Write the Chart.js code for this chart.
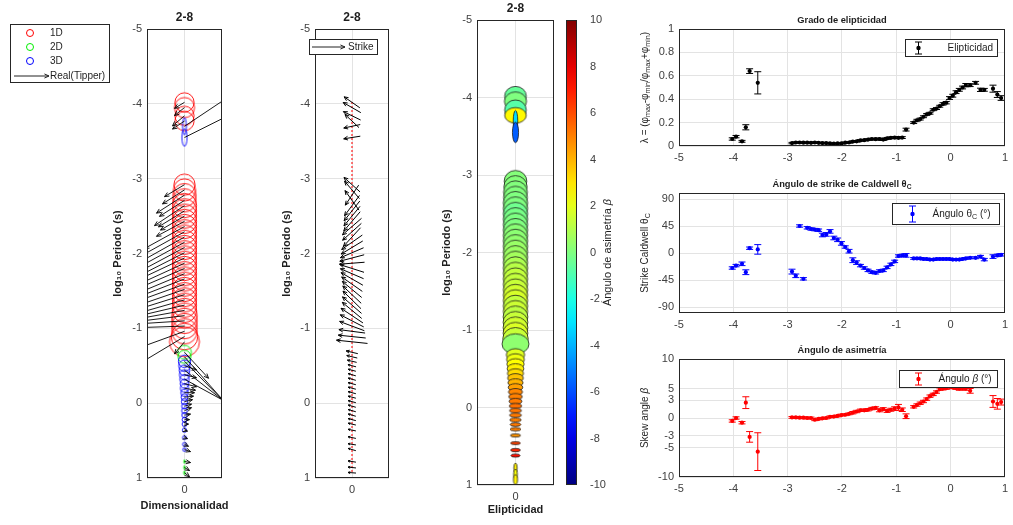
<!DOCTYPE html>
<html>
<head>
<meta charset="utf-8">
<title>2-8</title>
<script src="https://cdn.jsdelivr.net/npm/chart.js@4.4.1/dist/chart.umd.min.js"></script>
<style>
  html, body { margin: 0; padding: 0; background: #fff; overflow: hidden; }
  canvas { position: absolute; left: 0; top: 0; }
</style>
</head>
<body>
<canvas id="dim" width="1013" height="525"></canvas>
<canvas id="str" width="1013" height="525"></canvas>
<canvas id="ell" width="1013" height="525"></canvas>
<canvas id="cbar" width="1013" height="525"></canvas>
<canvas id="gEll" width="1013" height="525"></canvas>
<canvas id="gStr" width="1013" height="525"></canvas>
<canvas id="gSkew" width="1013" height="525"></canvas>
<script>
// ---- data (log10 period, one entry per frequency) ----
const periods = [
  -4.02, -3.95, -3.84, -3.77, -3.70, -3.55,
  -2.92, -2.85, -2.78, -2.71, -2.64, -2.57, -2.50, -2.43, -2.36, -2.29, -2.22, -2.15, -2.08, -2.01, -1.94, -1.87,
  -1.80, -1.73, -1.66, -1.59, -1.52, -1.45, -1.38, -1.31, -1.24, -1.17, -1.10, -1.03, -0.96, -0.89, -0.82,
  -0.68, -0.62, -0.56, -0.50, -0.44, -0.38, -0.32, -0.26, -0.20, -0.14, -0.08, -0.02, 0.04, 0.10, 0.16, 0.22,
  0.28, 0.36, 0.46, 0.55, 0.62, 0.78, 0.86, 0.93
];
// dimensionality: 1 = 1D, 2 = 2D, 3 = 3D
const dims = [
  1, 1, 1, 1, 3, 3,
  1, 1, 1, 1, 1, 1, 1, 1, 1, 1, 1, 1, 1, 1, 1, 1,
  1, 1, 1, 1, 1, 1, 1, 1, 1, 1, 1, 1, 1, 1, 1,
  2, 2, 3, 3, 3, 3, 3, 3, 3, 3, 3, 3, 3, 3, 3, 3,
  3, 3, 3, 3, 3, 2, 2, 2
];
const ellipticity = [
  0.06, 0.08, 0.04, 0.16, 0.64, 0.54,
  0.025, 0.03, 0.03, 0.028, 0.028, 0.027, 0.03, 0.027, 0.025, 0.025, 0.022, 0.02, 0.022, 0.022, 0.028, 0.03,
  0.038, 0.04, 0.048, 0.05, 0.055, 0.06, 0.058, 0.06, 0.055, 0.065, 0.07, 0.072, 0.07, 0.072, 0.14,
  0.20, 0.22, 0.23, 0.25, 0.27, 0.28, 0.31, 0.32, 0.34, 0.36, 0.37, 0.41, 0.43, 0.46, 0.48, 0.50,
  0.52, 0.52, 0.54, 0.48, 0.48, 0.49, 0.44, 0.41
];
const ellipticityErr = [
  0.010, 0.010, 0.008, 0.022, 0.020, 0.095,
  0.006, 0.006, 0.006, 0.006, 0.006, 0.006, 0.006, 0.006, 0.006, 0.006, 0.005, 0.005, 0.005, 0.005, 0.006, 0.006,
  0.007, 0.007, 0.007, 0.007, 0.007, 0.007, 0.007, 0.008, 0.008, 0.008, 0.008, 0.008, 0.008, 0.008, 0.012,
  0.008, 0.008, 0.008, 0.008, 0.008, 0.008, 0.008, 0.008, 0.008, 0.010, 0.010, 0.012, 0.012, 0.012, 0.012, 0.012,
  0.014, 0.012, 0.012, 0.014, 0.012, 0.030, 0.025, 0.020
];
const strike = [
  -25, -21, -18, -32, 8, 6,
  -31, -38, 45, -43, 42, 40, 39, 38, 30, 31, 36, 25, 22, 16, 10, 3,
  -12, -16, -21, -25, -29, -32, -33, -30, -29, -24, -19, -14, -5, -4, -4,
  -9, -9, -9, -10, -10, -11, -11, -10, -10, -10, -10, -10, -11, -11, -11, -10,
  -9, -8, -8, -6, -11, -6, -4, -3
];
const strikeErr = [
  2, 2, 3, 4, 2, 8,
  4, 3, 2, 2, 2, 2, 2, 2, 3, 3, 3, 3, 3, 3, 2, 3,
  4, 3, 2, 2, 2, 2, 2, 2, 2, 2, 2, 2, 2, 2, 3,
  1.5, 1.5, 1.5, 1.5, 1.5, 1.5, 1.5, 1.5, 1.5, 1.5, 1.5, 1.5, 1.5, 1.5, 1.5, 1.5,
  1.5, 1.5, 1.5, 2, 2, 3, 2, 2
];
const skew = [
  -0.5, 0.0, -0.8, 2.6, -3.2, -5.7,
  0.1, 0.1, 0.05, 0.05, 0.0, 0.0, -0.3, -0.15, -0.05, 0.0, 0.2, 0.25, 0.35, 0.5, 0.55, 0.7,
  0.9, 1.1, 1.3, 1.3, 1.4, 1.6, 1.7, 1.3, 1.5, 1.2, 1.4, 1.6, 1.8, 1.4, 0.3,
  1.9, 2.2, 2.5, 2.8, 3.2, 3.7, 4.0, 4.4, 4.9, 5.0, 5.1, 5.3, 5.2, 5.1, 5.0, 5.1,
  5.0, 4.6, 6.2, 6.8, 7.2, 2.8, 2.4, 2.7
];
const skewErr = [
  0.2, 0.2, 0.2, 1.0, 0.9, 3.2,
  0.15, 0.15, 0.15, 0.15, 0.15, 0.15, 0.15, 0.15, 0.15, 0.15, 0.15, 0.15, 0.15, 0.15, 0.15, 0.15,
  0.2, 0.2, 0.2, 0.2, 0.2, 0.2, 0.2, 0.25, 0.25, 0.25, 0.25, 0.3, 0.5, 0.3, 0.4,
  0.2, 0.2, 0.2, 0.2, 0.2, 0.2, 0.2, 0.2, 0.2, 0.25, 0.25, 0.25, 0.25, 0.25, 0.3, 0.3,
  0.3, 0.4, 0.4, 0.4, 0.4, 1.0, 0.9, 0.5
];
// phase tensor: phi_max (deg) and azimuth of the major axis (deg from horizontal)
const phiMax = [
  40, 41, 40, 40, 38, 38,
  42, 43, 44, 44, 45, 45, 45, 45, 45, 45, 45, 45, 45, 45, 45, 45,
  45, 45, 45, 45, 45, 45, 45, 45, 45, 46, 46, 46, 46, 47, 50,
  34, 33, 32, 31, 30, 29, 28, 27, 26, 25, 24, 23, 22, 22, 21, 20,
  20, 19, 18, 18, 17, 18, 18, 18
];
const ellAzimuth = [
  0, 0, 0, 0, 90, 90,
  0, 0, 0, 0, 0, 0, 0, 0, 0, 0, 0, 0, 0, 0, 0, 0,
  0, 0, 0, 0, 0, 0, 0, 0, 0, 0, 0, 0, 0, 0, 0,
  0, 0, 0, 0, 0, 0, 0, 0, 0, 0, 0, 0, 0, 0, 0, 0,
  0, 0, 0, 0, 0, 90, 90, 90
];
// real induction arrows (x to the right, y towards longer periods)
const tipperX = [
  -0.10, -0.10, -0.12, -0.12, 0.60, 0.60,
  -0.20, -0.22, -0.28, -0.25, -0.30, -0.26, -0.24, -0.28, -0.40, -0.45, -0.50, -0.55, -0.60, -0.65, -0.70, -0.70,
  -0.70, -0.72, -0.72, -0.72, -0.70, -0.70, -0.70, -0.68, -0.66, -0.64, -0.62, -0.60, -0.55, -0.50, -0.10,
  0.24, 0.55, 0.55, 0.12, 0.55, 0.12, 0.55, 0.12, 0.11, 0.10, 0.09, 0.08, 0.07, 0.07, 0.06, 0.05,
  0.04, 0.03, 0.03, 0.04, 0.06, 0.06, 0.05, 0.05
];
const tipperY = [
  0.06, 0.08, 0.10, 0.08, -0.40, -0.30,
  0.12, 0.14, 0.18, 0.16, 0.20, 0.16, 0.14, 0.15, 0.22, 0.25, 0.28, 0.30, 0.32, 0.33, 0.33, 0.32,
  0.30, 0.30, 0.28, 0.26, 0.24, 0.22, 0.20, 0.16, 0.12, 0.08, 0.04, 0.02, 0.20, 0.30, 0.12,
  0.26, 0.62, 0.56, 0.04, 0.43, 0.03, 0.30, 0.03, 0.02, 0.00, -0.01, -0.02, -0.02, -0.03, -0.01, 0.00,
  0.00, 0.01, 0.01, 0.02, 0.02, 0.01, 0.03, 0.04
];

const periodTicks = [-5, -4, -3, -2, -1, 0, 1];
const stripTicks = [0];
const ellipTicks = [0, 0.2, 0.4, 0.6, 0.8, 1];
const strikeTicks = [-90, -45, 0, 45, 90];
const skewTicks = [-10, -5, -3, 0, 3, 5, 10];
const cbarTicks = [-10, -8, -6, -4, -2, 0, 2, 4, 6, 8, 10];

// ---- look ----
const FONT = "'Liberation Sans', Arial, sans-serif";
Chart.defaults.font.family = FONT;
Chart.defaults.font.size = 11;
Chart.defaults.color = '#404040';
Chart.defaults.animation = false;
Chart.defaults.responsive = false;
Chart.defaults.events = [];
Chart.defaults.plugins.legend.display = false;
Chart.defaults.plugins.tooltip.enabled = false;

const W = 1013, H = 525;
const GRID = '#e3e3e3', AXIS = '#262626', TXT = '#1e1e1e';
const PT_PX = 0.27;   // px per degree of phi_max
const TIP_PX = 100;   // px per unit of induction arrow

function jet(v) {
  const t = Math.max(0, Math.min(1, (v + 10) / 20));
  const c = u => Math.round(255 * Math.max(0, Math.min(1, u)));
  return `rgb(${c(1.5 - Math.abs(4 * t - 3))},${c(1.5 - Math.abs(4 * t - 2))},${c(1.5 - Math.abs(4 * t - 1))})`;
}

function frame(l, t, r, b, yw, xh, right) {
  return { padding: { left: right ? l : l - yw, top: t, right: right ? W - r - yw : W - r, bottom: H - b - xh } };
}

function axisY(min, max, ticks, yw, extra) {
  return Object.assign({
    type: 'linear', min, max,
    afterBuildTicks: s => { s.ticks = ticks.map(v => ({ value: v })); },
    afterFit: s => { s.width = yw; },
    grid: { color: GRID, drawTicks: false },
    border: { display: false },
    ticks: { padding: 5, callback: v => String(v) }
  }, extra || {});
}
function axisX(min, max, ticks, xh, extra) {
  return Object.assign({
    type: 'linear', min, max,
    afterBuildTicks: s => { s.ticks = ticks.map(v => ({ value: v })); },
    afterFit: s => { s.height = xh; },
    grid: { color: GRID, drawTicks: false },
    border: { display: false },
    ticks: { padding: 5, maxRotation: 0, autoSkip: false, callback: v => String(v) }
  }, extra || {});
}
const boldTitle = text => ({ display: true, text, color: TXT, font: { size: 11, weight: 'bold' }, padding: { top: 4, bottom: 4 } });

// text made of segments: [text, subscript?, italic?]
function drawRich(ctx, segs, x, y, size, weight, rot, align) {
  ctx.save();
  ctx.translate(x, y);
  if (rot) ctx.rotate(rot);
  const parts = segs.map(s => {
    const sz = s[1] ? size * 0.72 : size;
    const f = `${s[2] ? 'italic ' : ''}${weight} ${sz}px ${FONT}`;
    ctx.font = f;
    return { t: s[0], f, w: ctx.measureText(s[0]).width, dy: s[1] ? size * 0.32 : 0 };
  });
  const total = parts.reduce((a, p) => a + p.w, 0);
  let cx = align === 'left' ? 0 : -total / 2;
  ctx.fillStyle = TXT;
  ctx.textBaseline = 'middle';
  ctx.textAlign = 'left';
  parts.forEach(p => { ctx.font = p.f; ctx.fillText(p.t, cx, p.dy); cx += p.w; });
  ctx.restore();
}

function arrow(ctx, x0, y0, x1, y1, head) {
  const a = Math.atan2(y1 - y0, x1 - x0);
  ctx.beginPath();
  ctx.moveTo(x0, y0);
  ctx.lineTo(x1, y1);
  ctx.moveTo(x1 - head * Math.cos(a - 0.42), y1 - head * Math.sin(a - 0.42));
  ctx.lineTo(x1, y1);
  ctx.lineTo(x1 - head * Math.cos(a + 0.42), y1 - head * Math.sin(a + 0.42));
  ctx.stroke();
}

function clipArea(ctx, a) {
  ctx.beginPath();
  ctx.rect(a.left, a.top, a.right - a.left, a.bottom - a.top);
  ctx.clip();
}

const boxPlugin = {
  id: 'box',
  afterDraw(chart) {
    const { ctx, chartArea: a } = chart;
    ctx.save();
    ctx.strokeStyle = AXIS;
    ctx.lineWidth = 1;
    ctx.strokeRect(Math.round(a.left) + 0.5, Math.round(a.top) + 0.5, Math.round(a.right - a.left) - 1, Math.round(a.bottom - a.top) - 1);
    ctx.restore();
  }
};

function titlePlugin(segs, size, gap) {
  return {
    id: 'ttl',
    afterDraw(chart) {
      const a = chart.chartArea;
      drawRich(chart.ctx, segs, (a.left + a.right) / 2, a.top - gap, size, 'bold');
    }
  };
}
function xLabelPlugin(text, gap) {
  return {
    id: 'xlab',
    afterDraw(chart) {
      const a = chart.chartArea;
      drawRich(chart.ctx, [[text]], (a.left + a.right) / 2, a.bottom + gap, 11, 'bold');
    }
  };
}
function yLabelPlugin(segs, size, dx) {
  return {
    id: 'ylab',
    afterDraw(chart) {
      const a = chart.chartArea;
      drawRich(chart.ctx, segs, a.left - dx, (a.top + a.bottom) / 2, size, 'normal', -Math.PI / 2);
    }
  };
}

// phase tensor ellipse glyphs
function ellipseImg(ra, rb, fill, stroke, lw) {
  const s = Math.ceil(2 * ra + 2 * lw + 2);
  const c = document.createElement('canvas');
  c.width = s; c.height = s;
  const g = c.getContext('2d');
  g.beginPath();
  g.ellipse(s / 2, s / 2, ra, Math.max(rb, 0.6), 0, 0, 2 * Math.PI);
  if (fill) { g.fillStyle = fill; g.fill(); }
  g.lineWidth = lw;
  g.strokeStyle = stroke;
  g.stroke();
  return c;
}
const dimColor = { 1: '#ff0000', 2: '#00ee00', 3: '#0000ff' };
const ratio = i => (1 - ellipticity[i]) / (1 + ellipticity[i]);
const dimImgs = periods.map((p, i) => {
  const ra = PT_PX * phiMax[i] * phiMax[i] / 45;
  const rb = ellAzimuth[i] === 90 ? ra * ratio(i) : ra;
  return ellipseImg(ra, rb, null, dimColor[dims[i]], 0.9);
});
const ellImgs = periods.map((p, i) => {
  const ra = PT_PX * phiMax[i];
  return ellipseImg(ra, ra * ratio(i), jet(skew[i]), '#1a1a1a', 0.8);
});

// ---- 1: dimensionality + induction arrows ----
const tipperPlugin = {
  id: 'tipper',
  afterDatasetsDraw(chart) {
    const { ctx, chartArea: a, scales: { x, y } } = chart;
    ctx.save();
    clipArea(ctx, a);
    ctx.strokeStyle = '#000';
    ctx.lineWidth = 0.9;
    periods.forEach((p, i) => {
      const x0 = x.getPixelForValue(0), y0 = y.getPixelForValue(p);
      arrow(ctx, x0, y0, x0 + tipperX[i] * TIP_PX, y0 + tipperY[i] * TIP_PX, 5);
    });
    ctx.restore();
  }
};
const dimLegend = {
  id: 'dimLegend',
  afterDraw(chart) {
    const ctx = chart.ctx;
    ctx.save();
    ctx.fillStyle = '#fff';
    ctx.strokeStyle = AXIS;
    ctx.lineWidth = 1;
    ctx.fillRect(10.5, 24.5, 99, 58);
    ctx.strokeRect(10.5, 24.5, 99, 58);
    [['1D', 1, 33], ['2D', 2, 47], ['3D', 3, 61]].forEach(([t, d, yy]) => {
      ctx.beginPath();
      ctx.arc(30, yy, 3.5, 0, 2 * Math.PI);
      ctx.strokeStyle = dimColor[d];
      ctx.stroke();
      drawRich(ctx, [[t]], 50, yy, 10, 'normal', 0, 'left');
    });
    ctx.strokeStyle = '#222';
    arrow(ctx, 14, 76, 49, 76, 5);
    drawRich(ctx, [['Real(Tipper)']], 50, 76, 10, 'normal', 0, 'left');
    ctx.restore();
  }
};
new Chart(document.getElementById('dim'), {
  type: 'scatter',
  data: { datasets: [{
    data: periods.map(p => ({ x: 0, y: p })),
    pointStyle: c => dimImgs[c.dataIndex],
    rotation: c => -ellAzimuth[c.dataIndex],
    pointRadius: 3
  }] },
  options: {
    layout: frame(147, 29, 222, 478, 40, 39),
    scales: {
      x: axisX(-1, 1, stripTicks, 39),
      y: axisY(-5, 1, periodTicks, 40, { reverse: true, title: boldTitle('log₁₀ Periodo (s)') })
    }
  },
  plugins: [tipperPlugin, boxPlugin, titlePlugin([['2-8']], 12, 11.5), xLabelPlugin('Dimensionalidad', 28), dimLegend]
});

// ---- 2: strike arrows ----
const strikePlugin = {
  id: 'strikeArrows',
  afterDatasetsDraw(chart) {
    const { ctx, chartArea: a, scales: { x, y } } = chart;
    ctx.save();
    clipArea(ctx, a);
    ctx.strokeStyle = '#000';
    ctx.lineWidth = 1;
    periods.forEach((p, i) => {
      const len = Math.max(8, (phiMax[i] - 24) * 1.2);
      const t = strike[i] * Math.PI / 180;
      // vector in data units: the period axis is stretched 1.5x against the strip width
      let ux = -Math.cos(t), uy = 1.5 * Math.sin(t);
      const n = Math.hypot(ux, uy);
      const dx = ux / n * len / 2, dy = uy / n * len / 2;
      const cx = x.getPixelForValue(0), cy = y.getPixelForValue(p);
      arrow(ctx, cx - dx, cy - dy, cx + dx, cy + dy, Math.min(4.5, len * 0.3));
    });
    ctx.restore();
  }
};
const strikeLegend = {
  id: 'strikeLegend',
  afterDraw(chart) {
    const ctx = chart.ctx;
    ctx.save();
    ctx.fillStyle = '#fff';
    ctx.strokeStyle = AXIS;
    ctx.lineWidth = 1;
    ctx.fillRect(309.5, 39.5, 68, 15);
    ctx.strokeRect(309.5, 39.5, 68, 15);
    ctx.strokeStyle = '#222';
    arrow(ctx, 312, 47, 345, 47, 5);
    drawRich(ctx, [['Strike']], 348, 47, 10, 'normal', 0, 'left');
    ctx.restore();
  }
};
new Chart(document.getElementById('str'), {
  type: 'scatter',
  data: { datasets: [{
    data: periods.map(p => ({ x: 0, y: p })),
    showLine: true,
    borderColor: '#ff2020',
    borderWidth: 1.6,
    borderDash: [1.5, 2.5],
    pointRadius: 0
  }] },
  options: {
    layout: frame(315, 29, 389, 478, 39, 39),
    scales: {
      x: axisX(-1, 1, stripTicks, 39),
      y: axisY(-5, 1, periodTicks, 39, { reverse: true, title: boldTitle('log₁₀ Periodo (s)') })
    }
  },
  plugins: [strikePlugin, boxPlugin, titlePlugin([['2-8']], 12, 11.5), strikeLegend]
});

// ---- 3: ellipticity ellipses coloured by skew ----
new Chart(document.getElementById('ell'), {
  type: 'scatter',
  data: { datasets: [{
    data: periods.map(p => ({ x: 0, y: p })),
    pointStyle: c => ellImgs[c.dataIndex],
    rotation: c => -ellAzimuth[c.dataIndex],
    pointRadius: 3
  }] },
  options: {
    layout: frame(477, 20, 554, 485, 41, 36),
    scales: {
      x: axisX(-1, 1, stripTicks, 36),
      y: axisY(-5, 1, periodTicks, 41, { reverse: true, title: boldTitle('log₁₀ Periodo (s)') })
    }
  },
  plugins: [boxPlugin, titlePlugin([['2-8']], 12, 11.5), xLabelPlugin('Elipticidad', 25)]
});

// ---- colour bar ----
new Chart(document.getElementById('cbar'), {
  type: 'bar',
  data: { labels: ['β'], datasets: [{
    data: [[cbarTicks[0], cbarTicks[cbarTicks.length - 1]]],
    barPercentage: 1, categoryPercentage: 1, borderWidth: 0,
    backgroundColor: c => {
      const a = c.chart.chartArea;
      if (!a) return '#fff';
      const y = c.chart.scales.y;
      const g = c.chart.ctx.createLinearGradient(0, y.getPixelForValue(-10), 0, y.getPixelForValue(10));
      for (let k = 0; k <= 20; k++) g.addColorStop(k / 20, jet(-10 + k));
      return g;
    }
  }] },
  options: {
    layout: frame(566, 20, 577, 485, 36, 0, true),
    scales: {
      x: { display: false },
      y: axisY(-10, 10, cbarTicks, 36, { position: 'right', grid: { display: false } })
    }
  },
  plugins: [boxPlugin, {
    id: 'cbLabel',
    afterDraw(chart) {
      const a = chart.chartArea;
      drawRich(chart.ctx, [['Ángulo de asimetría '], ['β', 0, 1]], a.right + 31, (a.top + a.bottom) / 2, 11, 'normal', -Math.PI / 2);
    }
  }]
});

// ---- right column: error-bar panels ----
function errorPlugin(vals, errs, color) {
  return {
    id: 'errorBars',
    beforeDatasetsDraw(chart) {
      const { ctx, chartArea: a, scales: { x, y } } = chart;
      ctx.save();
      clipArea(ctx, a);
      ctx.strokeStyle = color;
      ctx.lineWidth = 1;
      periods.forEach((p, i) => {
        const px = x.getPixelForValue(p);
        const lo = y.getPixelForValue(vals[i] - errs[i]), hi = y.getPixelForValue(vals[i] + errs[i]);
        ctx.beginPath();
        ctx.moveTo(px, lo); ctx.lineTo(px, hi);
        ctx.moveTo(px - 3.5, lo); ctx.lineTo(px + 3.5, lo);
        ctx.moveTo(px - 3.5, hi); ctx.lineTo(px + 3.5, hi);
        ctx.stroke();
      });
      ctx.restore();
    }
  };
}
function errLegend(segs, color, dRight, dTop, w, h, iconDx, textDx) {
  return {
    id: 'errLegend',
    afterDraw(chart) {
      const { ctx, chartArea: a } = chart;
      const l = Math.round(a.right - dRight - w) + 0.5, t = Math.round(a.top + dTop) + 0.5;
      ctx.save();
      ctx.fillStyle = '#fff';
      ctx.strokeStyle = AXIS;
      ctx.lineWidth = 1;
      ctx.fillRect(l, t, w, h);
      ctx.strokeRect(l, t, w, h);
      const ix = l + iconDx, iy = t + h / 2, ih = h / 2 - 2.5;
      ctx.strokeStyle = color;
      ctx.beginPath();
      ctx.moveTo(ix, iy - ih); ctx.lineTo(ix, iy + ih);
      ctx.moveTo(ix - 3.5, iy - ih); ctx.lineTo(ix + 3.5, iy - ih);
      ctx.moveTo(ix - 3.5, iy + ih); ctx.lineTo(ix + 3.5, iy + ih);
      ctx.stroke();
      ctx.fillStyle = color;
      ctx.beginPath();
      ctx.arc(ix, iy, 2.2, 0, 2 * Math.PI);
      ctx.fill();
      drawRich(ctx, segs, l + textDx, iy, 10, 'normal', 0, 'left');
      ctx.restore();
    }
  };
}
function errChart(id, vals, errs, color, top, bottom, ymin, ymax, yticks, title, ylab, legend) {
  return new Chart(document.getElementById(id), {
    type: 'scatter',
    data: { datasets: [{
      data: periods.map((p, i) => ({ x: p, y: vals[i] })),
      pointRadius: 2.1,
      pointBorderWidth: 0,
      pointBackgroundColor: color
    }] },
    options: {
      layout: frame(679, top, 1009, bottom, 40, 20),
      scales: {
        x: axisX(-5, 1, periodTicks, 20),
        y: axisY(ymin, ymax, yticks, 40)
      }
    },
    plugins: [errorPlugin(vals, errs, color), boxPlugin, titlePlugin(title, 9.3, 9), yLabelPlugin(ylab, 10, 34), legend]
  });
}

errChart('gEll', ellipticity, ellipticityErr, '#000000', 29, 146, 0, 1, ellipTicks,
  [['Grado de elipticidad']],
  [['λ = (φ'], ['max', 1], ['-φ'], ['min', 1], ['/φ'], ['max', 1], ['+φ'], ['min', 1], [')']],
  errLegend([['Elipticidad']], '#000000', 8, 10, 92, 17, 13, 42));

errChart('gStr', strike, strikeErr, '#0000ff', 193, 313, -100, 100, strikeTicks,
  [['Ángulo de strike de Caldwell θ'], ['C', 1]],
  [['Strike Caldwell θ'], ['C', 1]],
  errLegend([['Ángulo θ'], ['C', 1], [' (°)']], '#0000ff', 6, 10, 107, 21, 20, 40));

errChart('gSkew', skew, skewErr, '#ff0000', 359, 477, -10, 10, skewTicks,
  [['Ángulo de asimetría']],
  [['Skew angle '], ['β', 0, 1]],
  errLegend([['Ángulo '], ['β', 0, 1], [' (°)']], '#ff0000', 8, 11, 98, 17, 19, 39));
</script>
</body>
</html>
